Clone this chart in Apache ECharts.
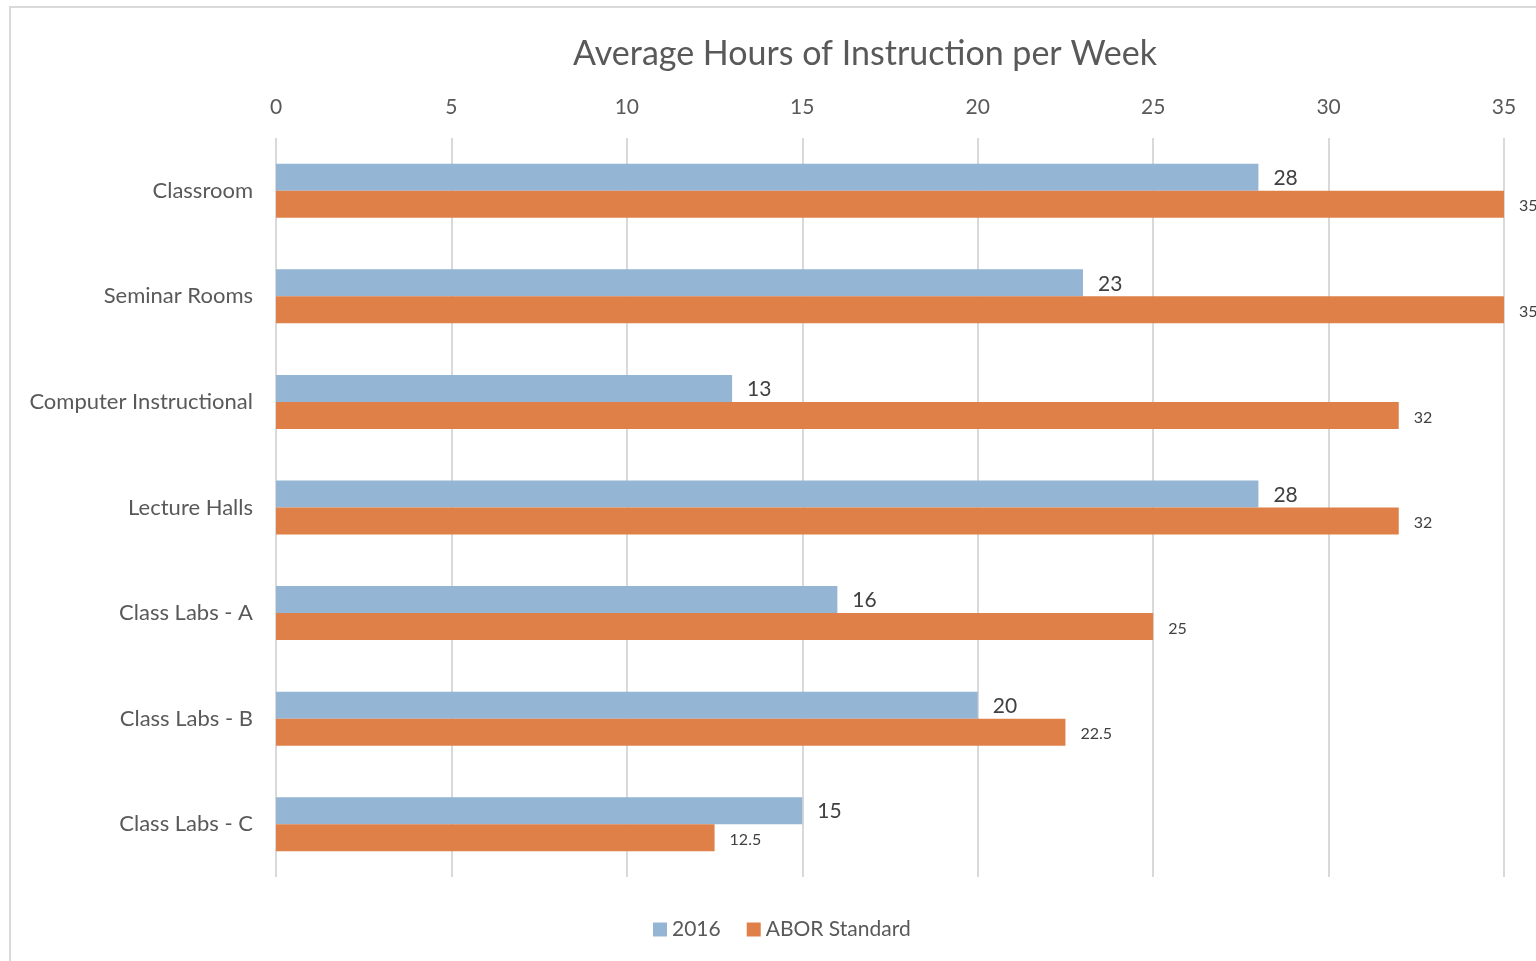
<!DOCTYPE html>
<html>
<head>
<meta charset="utf-8">
<title>Average Hours of Instruction per Week</title>
<script src="https://cdn.jsdelivr.net/npm/echarts@6/dist/echarts.min.js"></script>
<style>
  html, body { margin: 0; padding: 0; background: #fff; }
  #chart { width: 1536px; height: 961px; }
</style>
</head>
<body>
<div id="chart"></div>
<script>
// categories, top to bottom
var rooms = ['Classroom', 'Seminar Rooms', 'Computer Instructional', 'Lecture Halls',
  'Class Labs - A', 'Class Labs - B', 'Class Labs - C'];
var hours2016 = [28, 23, 13, 28, 16, 20, 15];
var aborStandard = [35, 35, 32, 32, 25, 22.5, 12.5];
var seriesNames = ['2016', 'ABOR Standard'];

var font = 'Lato, "Open Sans", sans-serif';
var textColor = '#595959';

var chart = echarts.init(document.getElementById('chart'));

var option = {
  backgroundColor: '#ffffff',
  animation: false,
  color: ['#94b5d3', '#de8048'],
  textStyle: { fontFamily: font },
  graphic: [{
    // outer chart border (runs off the right / bottom)
    type: 'rect',
    shape: { x: 10, y: 7, width: 1560, height: 1000 },
    style: { fill: 'none', stroke: '#d9d9d9', lineWidth: 2 },
    silent: true
  }],
  title: {
    text: 'Average Hours of Instruction per Week',
    left: 860,
    textAlign: 'center',
    top: 32,
    textStyle: { fontFamily: font, fontSize: 34, fontWeight: 'normal', color: textColor }
  },
  legend: {
    data: seriesNames,
    bottom: 16,
    left: 648,
    itemWidth: 14,
    itemHeight: 14,
    itemGap: 26,
    icon: 'rect',
    textStyle: { fontFamily: font, fontSize: 21, color: textColor }
  },
  grid: { left: 276, right: 32, top: 138, bottom: 84 },
  xAxis: {
    type: 'value',
    position: 'top',
    min: 0,
    max: 35,
    interval: 5,
    axisLine: { show: false },
    axisTick: { show: false },
    axisLabel: { fontFamily: font, fontSize: 21, color: textColor, margin: 20 },
    splitLine: { lineStyle: { color: '#d9d9d9', width: 2 } }
  },
  yAxis: {
    type: 'category',
    data: rooms,
    inverse: true,
    axisLine: { show: false },
    axisTick: { show: false },
    axisLabel: { fontFamily: font, fontSize: 22, color: textColor, margin: 23 }
  },
  series: [{
    name: seriesNames[0],
    type: 'bar',
    data: hours2016,
    barWidth: 27,
    barGap: '0%',
    label: {
      show: true,
      position: 'right',
      distance: 15,
      fontFamily: font,
      fontSize: 21,
      color: '#404040',
      offset: [0, 1]
    }
  }, {
    name: seriesNames[1],
    type: 'bar',
    data: aborStandard,
    barWidth: 27,
    barGap: '0%',
    label: {
      show: true,
      position: 'right',
      distance: 15,
      fontFamily: font,
      fontSize: 16,
      color: '#404040',
      offset: [0, 2]
    }
  }]
};

chart.setOption(option);
</script>
</body>
</html>
